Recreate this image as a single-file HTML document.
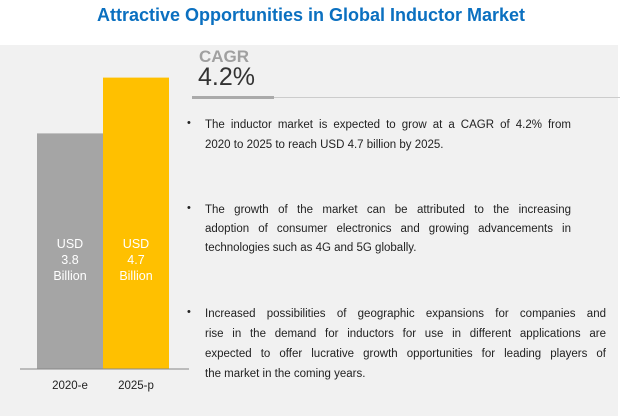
<!DOCTYPE html>
<html><head><meta charset="utf-8"><style>
body{margin:0;width:622px;height:416px;background:#fff;position:relative;overflow:hidden;font-family:"Liberation Sans",sans-serif}
.abs{position:absolute}
.ln{position:absolute;left:205px;font-size:11.5px;color:#222;text-align:justify;text-align-last:justify;white-space:nowrap;height:14px;line-height:14px}
.last{text-align-last:left}
.bul{position:absolute;left:187px;font-size:11px;color:#222}
</style></head><body>
<div class="abs" style="left:0;top:5px;width:622px;text-align:center;color:#0b70c0;font-weight:bold;font-size:18px">Attractive Opportunities in Global Inductor Market</div>
<div class="abs" style="left:0;top:45px;width:618px;height:371px;background:#f1f1f1"></div>
<svg class="abs" style="left:0;top:0" width="622" height="416">
<g id="bars"></g>
<line x1="20" y1="369" x2="189" y2="369" stroke="#888" stroke-width="1"/>
</svg>
<div class="abs" style="left:199px;top:47px;font-size:17px;font-weight:bold;color:#a0a0a0">CAGR</div>
<div class="abs" style="left:198px;top:63px;font-size:25px;color:#333">4.2%</div>
<div class="abs" style="left:192px;top:97px;width:428px;height:1px;background:#ccc"></div>
<div class="abs" style="left:192px;top:96px;width:82px;height:3px;background:#aaa"></div>

<div class="bul" style="top:117px">•</div>
<div class="ln" style="top:118px;width:366px">The inductor market is expected to grow at a CAGR of 4.2% from</div>
<div class="ln last" style="top:138px;width:366px">2020 to 2025 to reach USD 4.7 billion by 2025.</div>

<div class="bul" style="top:202px">•</div>
<div class="ln" style="top:203px;width:366px">The growth of the market can be attributed to the increasing</div>
<div class="ln" style="top:222px;width:366px">adoption of consumer electronics and growing advancements in</div>
<div class="ln last" style="top:241px;width:366px">technologies such as 4G and 5G globally.</div>

<div class="bul" style="top:306px">•</div>
<div class="ln" style="top:307px;width:401px">Increased possibilities of geographic expansions for companies and</div>
<div class="ln" style="top:327px;width:401px">rise in the demand for inductors for use in different applications are</div>
<div class="ln" style="top:347px;width:401px">expected to offer lucrative growth opportunities for leading players of</div>
<div class="ln last" style="top:367px;width:401px">the market in the coming years.</div>

<script>
const categories=["2020-e","2025-p"];
const values=[3.8,4.7];
const colors=["#a5a5a5","#ffc000"];
const ns="http://www.w3.org/2000/svg";
const g=document.getElementById("bars");
const base=369,pxPer=62,x0=37,bw=66;
function y(v){return base-v*pxPer;}
function bx(i){return x0+i*bw;}
categories.forEach((c,i)=>{
 const r=document.createElementNS(ns,"rect");
 r.setAttribute("x",bx(i));r.setAttribute("y",y(values[i]));
 r.setAttribute("width",bw);r.setAttribute("height",base-y(values[i]));
 r.setAttribute("fill",colors[i]);
 
 
 g.appendChild(r);
 ["USD",values[i].toFixed(1),"Billion"].forEach((s,k)=>{
  const t=document.createElementNS(ns,"text");
  t.setAttribute("x",bx(i)+bw/2);t.setAttribute("y",248+k*16);
  t.setAttribute("text-anchor","middle");t.setAttribute("fill","#fff");
  t.setAttribute("font-size","12.5");t.setAttribute("font-family","Liberation Sans, sans-serif");
  t.textContent=s;
  
  
  g.appendChild(t);
 });
 const t=document.createElementNS(ns,"text");
 t.setAttribute("x",bx(i)+bw/2);t.setAttribute("y",389);
 t.setAttribute("text-anchor","middle");t.setAttribute("fill","#222");
 t.setAttribute("font-size","11.5");t.setAttribute("font-family","Liberation Sans, sans-serif");
 t.textContent=c;
 
 
 g.appendChild(t);
});
</script>
</body></html>
